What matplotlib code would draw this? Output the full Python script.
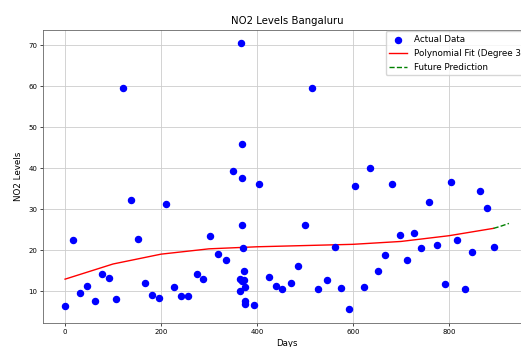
import matplotlib
matplotlib.use("Agg")
import matplotlib.pyplot as plt  # noqa: E402
import numpy as np               # noqa: E402

days = [0, 16, 31, 46, 62, 77, 91, 106, 120, 137, 151, 166, 182, 195, 211,
        228, 242, 257, 274, 288, 303, 319, 336, 349,
        367, 368, 368, 368, 370, 372, 364, 372, 368, 364, 376, 375, 375,
        394, 405, 425, 439, 453, 470, 485, 500, 514, 528, 545, 562, 576,
        591, 605, 622, 636, 653, 667, 682, 698, 713, 727, 742, 759, 775,
        791, 804, 817, 833, 848, 864, 879, 893]
no2 = [6.4, 22.4, 9.5, 11.2, 7.6, 14.1, 13.2, 8.0, 59.5, 32.2, 22.7, 12.0,
       9.0, 8.3, 31.2, 11.0, 8.8, 8.8, 14.1, 12.9, 23.4, 19.0, 17.6, 39.3,
       70.5, 45.9, 37.5, 26.0, 20.6, 15.0, 13.0, 12.8, 12.4, 10.0, 11.0,
       7.6, 6.8, 6.6, 36.1, 13.4, 11.2, 10.5, 12.0, 16.1, 26.1, 59.5, 10.5,
       12.7, 20.7, 10.7, 5.6, 35.6, 11.0, 40.0, 14.9, 18.8, 36.1, 23.7,
       17.6, 24.1, 20.5, 31.7, 21.2, 11.7, 36.6, 22.4, 10.5, 19.5, 34.4,
       30.2, 20.7]

# fitted cubic trend and its extension
fit_days = [0, 100, 200, 300, 400, 500, 600, 700, 800, 893]
fit_vals = [12.9, 16.6, 19.0, 20.3, 20.8, 21.1, 21.4, 22.1, 23.5, 25.3]
future_days = [893, 905, 915, 925]
future_vals = [25.3, 25.7, 26.1, 26.5]

fig = plt.figure(figsize=(5.21, 3.47), dpi=100)
ax = fig.add_axes([43 / 521, 24 / 347, 488 / 521, 293 / 347])

ax.scatter(days, no2, s=19, color="blue", label="Actual Data", zorder=3)
ax.plot(fit_days, fit_vals, color="red", lw=1.0,
        label="Polynomial Fit (Degree 3)", zorder=2)
ax.plot(future_days, future_vals, color="green", ls="--", lw=1.0,
        label="Future Prediction", zorder=2)

ax.set_xlim(-46, 971)
ax.set_ylim(2.2, 73.7)
ax.set_xticks([0, 200, 400, 600, 800])
ax.set_yticks([10, 20, 30, 40, 50, 60, 70])
ax.tick_params(labelsize=5, length=2, width=0.5, pad=2)
ax.grid(True, color="#cccccc", lw=0.6)
for s in ax.spines.values():
    s.set_linewidth(0.6)
    s.set_color("#666666")

ax.set_title("NO2 Levels Bangaluru", fontsize=7.3, pad=4)
ax.set_xlabel("Days", fontsize=6.2, labelpad=3)
ax.set_ylabel("NO2 Levels", fontsize=6.3, labelpad=4)
ax.legend(loc="upper left", bbox_to_anchor=(0.702, 0.995), borderaxespad=0,
          fontsize=6.3, labelspacing=0.55, framealpha=0.8)

fig.savefig("out.png", dpi=100)
